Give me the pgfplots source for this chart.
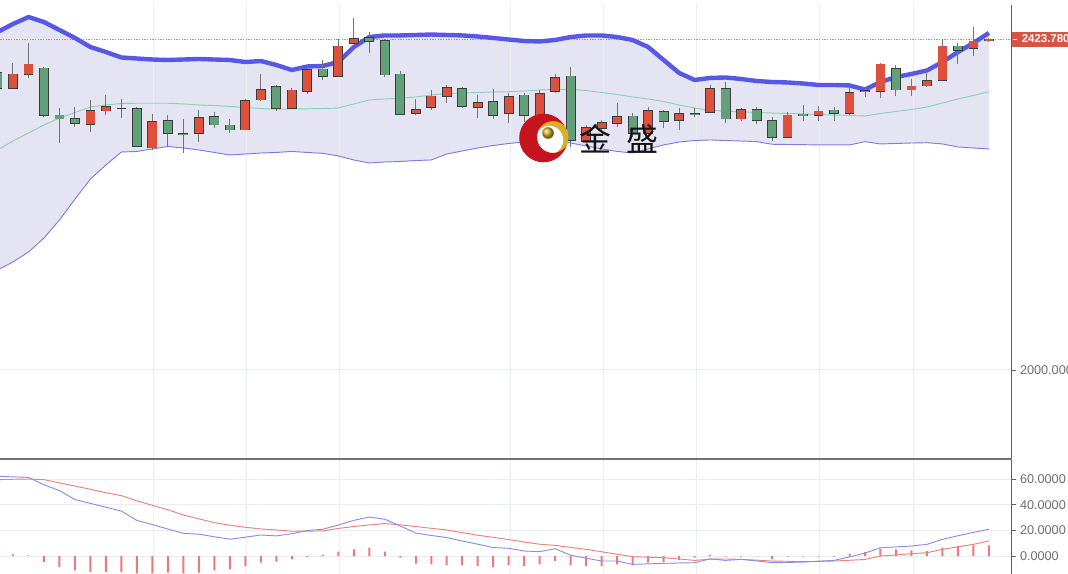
\documentclass[border=0pt]{standalone}
\usepackage{pgfplots}
\pgfplotsset{compat=1.18}
\usepackage{pgfplotstable}
\usepgfplotslibrary{fillbetween}
\usepackage{fontspec}
\setmainfont{Liberation Sans}
\newfontfamily\cjk{Noto Sans CJK SC}

\definecolor{candleRed}{RGB}{220,80,60}
\definecolor{candleGreen}{RGB}{98,160,122}
\definecolor{candleEdge}{RGB}{60,60,60}
\definecolor{wickCol}{RGB}{115,115,115}
\definecolor{bandFill}{RGB}{228,228,242}
\definecolor{upCol}{RGB}{88,88,232}
\definecolor{loCol}{RGB}{125,125,225}
\definecolor{midCol}{RGB}{135,210,182}
\definecolor{difCol}{RGB}{140,140,230}
\definecolor{deaCol}{RGB}{236,128,128}
\definecolor{histCol}{RGB}{240,120,120}
\definecolor{gridCol}{RGB}{233,238,242}
\definecolor{axisCol}{RGB}{95,95,95}
\definecolor{sepCol}{RGB}{115,115,115}
\definecolor{labelCol}{RGB}{110,110,110}
\definecolor{priceRed}{RGB}{214,84,66}
\definecolor{priceLine}{RGB}{232,125,112}
\definecolor{logoRed}{RGB}{198,20,30}
\definecolor{gold}{RGB}{218,176,40}
\definecolor{cjkCol}{RGB}{20,20,20}

\pgfplotstableread{
i O H L C
0 2380.6 2384.1 2358.5 2360.7
1 2360.7 2393.4 2360.0 2379.0
2 2378.1 2418.3 2373.5 2391.8
3 2386.7 2387.9 2323.9 2325.6
4 2326.5 2335.4 2291.0 2321.4
5 2322.3 2337.1 2311.5 2315.9
6 2314.6 2345.7 2305.1 2332.0
7 2331.6 2352.1 2326.5 2337.1
8 2335.5 2346.6 2322.3 2335.0
9 2334.6 2336.7 2285.5 2285.9
10 2284.2 2327.8 2281.7 2318.4
11 2319.2 2326.5 2285.9 2303.1
12 2303.1 2321.0 2277.4 2300.9
13 2303.1 2332.9 2292.3 2323.0
14 2324.3 2329.9 2309.5 2313.7
15 2313.7 2321.4 2303.8 2307.3
16 2307.3 2347.0 2307.0 2344.8
17 2345.7 2379.0 2345.0 2359.4
18 2362.7 2364.9 2331.6 2335.1
19 2335.1 2361.0 2334.5 2358.5
20 2356.3 2388.3 2353.0 2385.0
21 2385.4 2396.9 2371.3 2375.5
22 2375.5 2423.4 2375.0 2414.8
23 2418.3 2450.3 2418.0 2424.7
24 2426.0 2433.1 2406.2 2420.3
25 2421.6 2423.8 2375.5 2377.7
26 2379.0 2383.2 2327.0 2327.4
27 2328.7 2346.6 2326.5 2333.8
28 2336.3 2358.5 2332.9 2350.8
29 2349.9 2364.9 2341.5 2361.9
30 2360.7 2361.9 2335.1 2337.1
31 2336.3 2352.1 2322.3 2342.7
32 2343.5 2359.4 2321.0 2325.6
33 2328.7 2354.3 2315.9 2349.9
34 2352.1 2354.3 2317.9 2325.6
35 2320.1 2358.5 2313.7 2354.3
36 2356.3 2379.0 2354.3 2374.7
37 2376.4 2388.3 2285.9 2293.6
38 2292.3 2313.7 2290.6 2310.2
39 2309.5 2320.1 2305.1 2316.6
40 2315.9 2341.5 2311.5 2324.3
41 2325.2 2329.0 2298.7 2303.1
42 2303.1 2337.1 2298.7 2332.0
43 2330.7 2332.9 2309.5 2317.9
44 2319.2 2335.1 2307.3 2328.7
45 2328.7 2335.1 2323.5 2326.5
46 2329.4 2364.9 2328.7 2360.7
47 2360.7 2369.1 2316.6 2321.4
48 2321.4 2335.1 2318.8 2333.8
49 2333.8 2337.1 2315.0 2319.2
50 2319.2 2323.5 2293.2 2297.4
51 2297.4 2329.9 2296.6 2326.5
52 2327.8 2339.3 2319.2 2326.1
53 2325.6 2338.0 2319.2 2331.6
54 2332.9 2337.1 2319.2 2328.7
55 2328.7 2364.9 2326.5 2355.5
56 2357.6 2361.9 2349.9 2355.9
57 2356.3 2393.4 2347.9 2391.8
58 2386.3 2390.5 2351.2 2358.5
59 2358.5 2372.2 2351.2 2363.6
60 2363.6 2384.1 2362.7 2370.4
61 2370.4 2423.4 2370.0 2414.8
62 2414.8 2419.0 2391.8 2408.8
63 2411.9 2439.5 2402.0 2421.2
64 2421.2 2424.5 2420.5 2423.78
}\candles

\pgfplotstableread{
i up mid lo
0 2432.7 2281.7 2128.0
1 2443.0 2293.2 2138.3
2 2451.9 2303.5 2151.1
3 2445.5 2313.7 2169.0
4 2435.3 2322.6 2192.0
5 2425.1 2329.7 2218.8
6 2413.5 2336.7 2244.5
7 2407.1 2339.3 2262.5
8 2400.1 2341.2 2279.1
9 2398.8 2341.5 2279.8
10 2397.5 2341.5 2283.0
11 2396.9 2341.5 2286.2
12 2397.5 2340.6 2284.2
13 2398.2 2339.3 2281.7
14 2397.5 2338.6 2278.5
15 2396.9 2337.4 2275.3
16 2394.3 2336.1 2276.5
17 2395.6 2334.8 2277.8
18 2390.5 2333.8 2278.5
19 2384.1 2334.2 2279.8
20 2388.6 2334.4 2278.5
21 2389.2 2334.8 2277.4
22 2394.3 2335.4 2274.0
23 2413.5 2340.6 2268.9
24 2426.3 2345.7 2265.0
25 2428.3 2347.0 2266.3
26 2428.3 2347.9 2266.9
27 2428.9 2349.5 2268.2
28 2429.5 2352.1 2268.9
29 2428.9 2354.0 2276.5
30 2428.3 2354.6 2280.4
31 2427.0 2355.3 2284.2
32 2425.1 2355.9 2287.4
33 2423.1 2356.3 2290.0
34 2421.2 2357.2 2291.9
35 2420.6 2358.5 2294.5
36 2422.5 2359.1 2295.8
37 2426.3 2359.4 2290.6
38 2428.3 2357.8 2286.8
39 2428.3 2355.3 2283.0
40 2426.3 2352.7 2279.8
41 2422.5 2349.5 2277.8
42 2413.5 2347.0 2283.0
43 2396.9 2343.8 2288.1
44 2380.3 2339.3 2291.9
45 2371.3 2335.4 2293.8
46 2373.9 2332.2 2294.5
47 2374.5 2331.6 2293.8
48 2372.6 2330.3 2293.2
49 2370.0 2329.7 2292.3
50 2368.7 2329.0 2289.0
51 2368.1 2328.4 2288.7
52 2366.8 2327.8 2288.5
53 2364.9 2327.1 2288.1
54 2364.9 2326.5 2288.1
55 2364.3 2325.8 2288.1
56 2359.1 2325.2 2292.3
57 2368.7 2328.4 2289.4
58 2375.1 2331.0 2290.0
59 2379.0 2333.5 2290.6
60 2383.5 2336.7 2291.0
61 2394.3 2341.8 2289.4
62 2407.1 2347.0 2285.5
63 2418.7 2351.4 2284.2
64 2431.5 2356.3 2283.0
}\bands

\pgfplotstableread{
i dif dea hist
0 62.1 59.5 2.0
1 61.7 59.8 1.3
2 61.3 60.0 0.5
3 55.5 59.5 -4.7
4 51.0 57.0 -8.6
5 44.0 54.5 -11.2
6 41.0 52.0 -12.3
7 38.0 49.3 -12.3
8 35.0 47.0 -12.5
9 27.7 43.0 -13.6
10 24.5 39.5 -13.6
11 21.0 36.0 -13.0
12 17.7 31.9 -13.6
13 17.0 29.0 -13.0
14 15.0 26.0 -11.2
15 13.1 24.0 -10.4
16 14.7 22.4 -7.8
17 16.4 21.1 -5.2
18 15.7 20.3 -4.4
19 17.4 19.3 -2.6
20 19.8 19.4 -0.8
21 20.9 19.6 0.8
22 24.1 21.5 3.4
23 27.8 23.0 5.2
24 30.4 24.2 6.5
25 28.7 25.3 3.4
26 23.4 24.3 -1.3
27 17.9 23.0 -6.0
28 16.0 21.6 -6.5
29 14.4 20.3 -6.8
30 11.7 18.2 -7.3
31 9.2 16.2 -7.8
32 6.6 14.6 -8.6
33 6.0 12.8 -7.3
34 3.9 10.9 -7.8
35 3.4 9.2 -6.5
36 5.7 8.3 -3.9
37 0.6 6.7 -7.3
38 -1.7 5.2 -7.8
39 -3.9 3.3 -7.8
40 -3.9 1.4 -6.5
41 -6.5 -0.5 -7.3
42 -6.1 -0.9 -5.2
43 -5.7 -1.3 -4.7
44 -5.4 -2.3 -3.1
45 -5.2 -3.4 -1.3
46 -2.2 -2.5 0.8
47 -3.4 -2.3 -0.4
48 -2.6 -2.6 -0.5
49 -3.8 -3.2 -0.3
50 -5.2 -3.9 -2.6
51 -5.0 -4.1 -0.4
52 -4.7 -4.4 -0.4
53 -4.0 -4.2 -0.4
54 -3.4 -3.9 -0.4
55 -0.7 -3.3 1.8
56 2.3 -2.7 3.1
57 6.4 0.0 5.7
58 7.1 0.8 5.2
59 7.8 1.8 4.4
60 9.1 2.6 3.9
61 13.0 5.2 6.5
62 15.8 7.2 7.8
63 18.4 9.1 8.3
64 20.8 11.7 8.3
}\macd

\pgfplotsset{
  errbar/.style n args={2}{draw=none, mark=none, forget plot,
    /pgfplots/error bars/y dir=both,
    /pgfplots/error bars/y explicit,
    /pgfplots/error bars/error mark=none,
    /pgfplots/error bars/error bar style={draw=#1, line width=#2}},
  vgrid/.style={gridCol, line width=0.75pt, forget plot},
}

\begin{document}
\begin{tikzpicture}

\begin{axis}[at={(0pt,86.25pt)}, anchor=south west, scale only axis,
  width=759pt, height=340.5pt,
  xmin=0.161, xmax=65.49, ymin=1886.05, ymax=2467.3,
  axis line style={draw=none},
  xtick=\empty,
  ymajorgrids,
  grid style={draw=gridCol, line width=0.75pt},
  ytick={2000}, yticklabels={2000.000}, ytick pos=right, yticklabel pos=right,
  ytick style={draw=axisCol, line width=0.6pt}, tick align=outside, major tick length=3.2pt,
  yticklabel style={font=\fontsize{9.5}{11}\selectfont, text=labelCol, anchor=west, inner xsep=2.6pt},
  /pgf/number format/assume math mode=true]
\addplot[vgrid] coordinates {(10.1,1880) (10.1,2470)};
\addplot[vgrid] coordinates {(16.1,1880) (16.1,2470)};
\addplot[vgrid] coordinates {(22.1,1880) (22.1,2470)};
\addplot[vgrid] coordinates {(33.1,1880) (33.1,2470)};
\addplot[vgrid] coordinates {(39.1,1880) (39.1,2470)};
\addplot[vgrid] coordinates {(45.1,1880) (45.1,2470)};
\addplot[vgrid] coordinates {(53.05,1880) (53.05,2470)};
\addplot[vgrid] coordinates {(59.1,1880) (59.1,2470)};
\addplot[draw=none, name path=up, forget plot] table[x=i,y=up]{\bands};
\addplot[draw=none, name path=lo, forget plot] table[x=i,y=lo]{\bands};
\addplot[fill=bandFill, draw=none] fill between[of=up and lo];
\addplot[priceLine, line width=0.45pt, dash pattern=on 1.2pt off 0.8pt] coordinates {(0,2423.78) (66,2423.78)};
\addplot[midCol, line width=0.7pt] table[x=i,y=mid]{\bands};
\addplot[loCol, line width=0.7pt] table[x=i,y=lo]{\bands};
\addplot[upCol, line width=3.3pt, line join=round] table[x=i,y=up]{\bands};
% wicks
\addplot[errbar={wickCol}{0.75pt}] table[x=i, y expr={(\thisrow{H}+\thisrow{L})/2}, y error expr={(\thisrow{H}-\thisrow{L})/2}]{\candles};
% body outlines
\addplot[errbar={candleEdge}{7.4pt}] table[x=i, y expr={(\thisrow{O}+\thisrow{C})/2}, y error expr={abs(\thisrow{C}-\thisrow{O})/2+0.55}]{\candles};
% red bodies (close above open)
\addplot[restrict expr to domain={\thisrow{C}-\thisrow{O}}{0:1000}, errbar={candleRed}{6.2pt}] table[x=i, y expr={(\thisrow{O}+\thisrow{C})/2}, y error expr={max(abs(\thisrow{C}-\thisrow{O})/2-0.45,0)}]{\candles};
% green bodies (close below open)
\addplot[restrict expr to domain={\thisrow{C}-\thisrow{O}}{-1000:0}, errbar={candleGreen}{6.2pt}] table[x=i, y expr={(\thisrow{O}+\thisrow{C})/2}, y error expr={max(abs(\thisrow{C}-\thisrow{O})/2-0.45,0)}]{\candles};
\end{axis}

\begin{axis}[at={(0pt,0pt)}, anchor=south west, scale only axis,
  width=759pt, height=86.25pt,
  xmin=0.161, xmax=65.49, ymin=-14.0, ymax=75.6,
  axis line style={draw=none},
  xtick=\empty,
  ymajorgrids,
  grid style={draw=gridCol, line width=0.75pt},
  ytick={0,20,40,60}, yticklabels={0.0000,20.0000,40.0000,60.0000},
  ytick pos=right, yticklabel pos=right,
  ytick style={draw=axisCol, line width=0.6pt}, tick align=outside, major tick length=3.2pt,
  yticklabel style={font=\fontsize{9.5}{11}\selectfont, text=labelCol, anchor=west, inner xsep=2.6pt},
  /pgf/number format/assume math mode=true]
\addplot[vgrid] coordinates {(10.1,-20) (10.1,80)};
\addplot[vgrid] coordinates {(16.1,-20) (16.1,80)};
\addplot[vgrid] coordinates {(22.1,-20) (22.1,80)};
\addplot[vgrid] coordinates {(33.1,-20) (33.1,80)};
\addplot[vgrid] coordinates {(39.1,-20) (39.1,80)};
\addplot[vgrid] coordinates {(45.1,-20) (45.1,80)};
\addplot[vgrid] coordinates {(53.05,-20) (53.05,80)};
\addplot[vgrid] coordinates {(59.1,-20) (59.1,80)};
\addplot[ybar, bar width=1.5pt, fill=histCol, draw=none] table[x=i,y=hist]{\macd};
\addplot[deaCol, line width=0.7pt] table[x=i,y=dea]{\macd};
\addplot[difCol, line width=0.7pt] table[x=i,y=dif]{\macd};
\end{axis}

\begin{scope}[x=0.75pt,y=0.75pt]
\draw[axisCol, line width=0.9pt] (1011.5,0) -- (1011.5,569);
\draw[sepCol, line width=1.5pt] (0,115) -- (1011.5,115);

\fill[priceRed] (1011.5,527.3) rectangle (1075,542.3);
\draw[white, line width=0.6pt] (1012.5,535) -- (1016.5,535);
\node[anchor=west, text=white, inner sep=0pt, font=\bfseries\fontsize{8.6}{10}\selectfont] at (1021.5,535) {2423.780};

\fill[logoRed] (543.5,436) circle[radius=24.3];
\begin{scope}
\clip (553,437) circle[radius=15.8];
\fill[gold] (553,437) circle[radius=15.8];
\fill[white] (549,434) circle[radius=14.2];
\end{scope}
\shade[ball color=gold] (548,441) circle[radius=5.8];
\node[font=\cjk\fontsize{24}{24}\selectfont, text=cjkCol, inner sep=0pt] at (595,435) {金};
\node[font=\cjk\fontsize{24}{24}\selectfont, text=cjkCol, inner sep=0pt] at (642.5,435) {盛};
\end{scope}
\pgfresetboundingbox
\path[use as bounding box] (0pt,0pt) rectangle (801pt,430.5pt);
\end{tikzpicture}
\end{document}
